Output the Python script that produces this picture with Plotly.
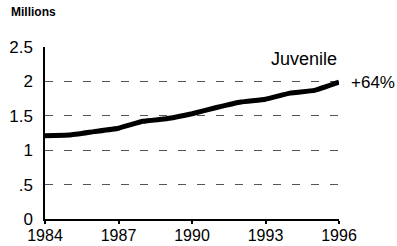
import plotly.graph_objects as go

years = [1984, 1985, 1986, 1987, 1988, 1989, 1990, 1991, 1992, 1993, 1994, 1995, 1996]
juvenile = [1.21, 1.22, 1.27, 1.32, 1.42, 1.46, 1.53, 1.62, 1.70, 1.74, 1.83, 1.87, 1.99]
y_tickvals = [0, 0.5, 1, 1.5, 2, 2.5]
y_ticktext = ["0", ".5", "1", "1.5", "2", "2.5"]
x_tickvals = [1984, 1987, 1990, 1993, 1996]
series_label = "Juvenile"
change_label = "+64%"
unit_label = "Millions"

FONT = "Liberation Sans, Arial, sans-serif"

fig = go.Figure()
fig.add_trace(go.Scatter(x=years, y=juvenile, mode="lines",
                         line=dict(color="black", width=5, shape="spline", smoothing=0.3),
                         showlegend=False, hoverinfo="skip"))

fig.update_layout(
    width=397, height=246,
    margin=dict(l=45, r=58, t=47, b=27, autoexpand=False),
    paper_bgcolor="white", plot_bgcolor="white",
    font=dict(family=FONT, color="black", size=16),
    xaxis=dict(range=[1984, 1996], tickvals=x_tickvals, automargin=False,
               showgrid=False, zeroline=False,
               showline=True, linecolor="black", linewidth=1.5,
               ticks="outside", ticklen=3, tickcolor="black", tickwidth=1.5,
               ticklabelstandoff=-2,
               tickfont=dict(size=16, family=FONT), fixedrange=True),
    yaxis=dict(range=[0, 2.5], tickvals=y_tickvals, ticktext=y_ticktext,
               automargin=False,
               showgrid=True, gridcolor="#555", gridwidth=1, griddash="8px,11px",
               zeroline=False, showline=True, linecolor="black", linewidth=1.5,
               ticks="", ticklabelstandoff=7,
               tickfont=dict(size=17, family=FONT), fixedrange=True),
    annotations=[
        dict(text="<b>" + unit_label + "</b>", xref="paper", yref="paper",
             x=(9 - 45) / 294, y=1 + 35/172, xanchor="left", yanchor="middle",
             showarrow=False, font=dict(size=12, family=FONT)),
        dict(text=series_label, xref="x", yref="paper",
             x=1996, y=(219-59)/172, xanchor="right", yanchor="middle",
             showarrow=False, font=dict(size=18, family=FONT)),
        dict(text=change_label, xref="x", yref="y",
             x=1996, y=juvenile[-1], xanchor="left", yanchor="middle", xshift=10,
             showarrow=False, font=dict(size=17, family=FONT)),
    ],
)

fig.write_html("out.html", config={"displayModeBar": False},
               post_script="document.body.style.margin='0';document.body.style.overflow='hidden';")
